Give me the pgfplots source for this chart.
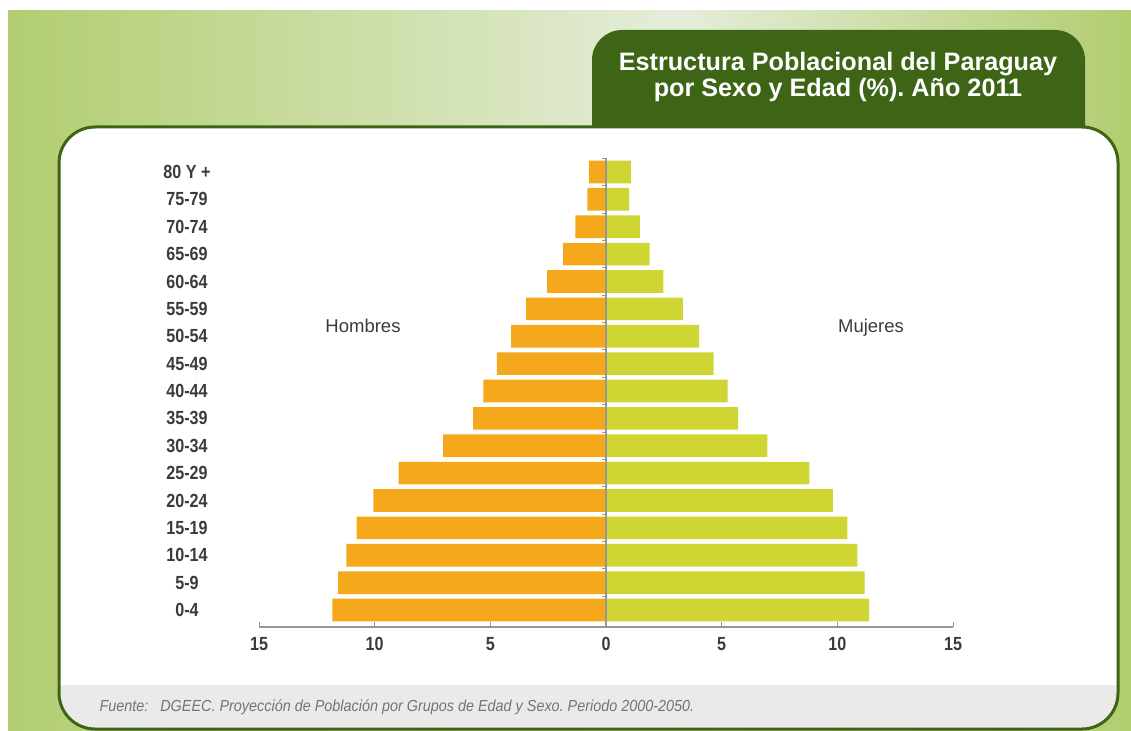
\documentclass[border=0pt]{standalone}
\usepackage{pgfplots}
\pgfplotsset{compat=1.18}
\usepackage{fontspec}
\setmainfont{Liberation Sans}
\newfontfamily\condfont[FakeStretch=0.85]{Liberation Sans}
\newfontfamily\footfont[FakeStretch=0.9]{Liberation Sans}
\frenchspacing

\definecolor{men}{RGB}{245,168,28}
\definecolor{women}{RGB}{207,214,52}
\definecolor{dkgreen}{RGB}{62,101,22}
\definecolor{bgdark}{RGB}{178,205,112}
\definecolor{bglight}{RGB}{229,237,218}
\definecolor{footgrey}{RGB}{234,234,234}
\definecolor{labgrey}{RGB}{62,58,60}
\definecolor{axgrey}{RGB}{150,150,150}

% percent of population by age group (index 0 = 0-4 ... 16 = 80 Y +)
\pgfplotstableread{
y  hombres  mujeres
0  -11.83   11.37
1  -11.58   11.18
2  -11.22   10.87
3  -10.78   10.43
4  -10.06    9.81
5   -8.96    8.79
6   -7.04    6.97
7   -5.74    5.71
8   -5.30    5.26
9   -4.72    4.65
10  -4.10    4.02
11  -3.45    3.32
12  -2.55    2.48
13  -1.85    1.89
14  -1.32    1.46
15  -0.81    1.00
16  -0.74    1.07
}\pyramid

\newcommand\labfont{\condfont\bfseries\fontsize{19bp}{20bp}\selectfont\color{labgrey}}

\begin{document}
\begin{tikzpicture}
\begin{scope}[x=1bp,y=-1bp]
  \useasboundingbox (0,0) rectangle (1131,731);
  \fill[white] (0,0) rectangle (1131,731);
  \shade[left color=bgdark, right color=bglight] (8,11) rectangle (680,731);
  \shade[left color=bglight, right color=bgdark] (680,11) rectangle (1131,731);
  % title tab
  \fill[dkgreen] (592,128) [rounded corners=30bp] -- (592,30) -- (1085,30) [sharp corners] -- (1085,128) -- cycle;
  \node[align=center, text=white, font=\bfseries\fontsize{25.2bp}{26bp}\selectfont] at (838,77)
    {Estructura Poblacional del Paraguay\\por Sexo y Edad (\%). Año 2011};
  % white panel with grey footer
  \fill[white, rounded corners=36bp] (59,127) rectangle (1118,729);
  \begin{scope}
    \clip[rounded corners=36bp] (59,127) rectangle (1118,729);
    \fill[footgrey] (50,685) rectangle (1130,735);
  \end{scope}
  \draw[dkgreen, line width=3bp, rounded corners=36bp] (59,127) rectangle (1118,729);
  \node[anchor=west, text={rgb,255:red,115;green,115;blue,125},
        font=\footfont\itshape\fontsize{16bp}{18bp}\selectfont] at (96,707)
    {Fuente:\hspace{12bp}DGEEC. Proyección de Población por Grupos de Edad y Sexo. Periodo 2000-2050.};
\end{scope}

\begin{axis}[
  at={(259bp,-627bp)}, anchor=south west,
  scale only axis, width=694bp, height=469bp,
  xmin=-15, xmax=15, ymin=-0.62, ymax=16.51,
  xbar, bar width=22.7bp,
  axis x line=bottom, axis y line=left,
  x axis line style={draw=axgrey, line width=1.3bp, -},
  y axis line style={draw=none},
  xtick={-15,-10,-5,0,5,10,15},
  xticklabels={15,10,5,0,5,10,15},
  xtick style={draw=axgrey, line width=1bp},
  tick align=inside, major tick length=5bp,
  xticklabel style={font=\labfont, yshift=-7bp},
  ytick={0,...,16},
  yticklabels={0-4,5-9,10-14,15-19,20-24,25-29,30-34,35-39,40-44,45-49,50-54,55-59,60-64,65-69,70-74,75-79,80 Y +},
  ytick style={draw=none},
  yticklabel style={font=\labfont, anchor=center, xshift=-72bp},
]
\addplot[fill=men, draw=none, bar shift=0pt] table[x=hombres, y=y] {\pyramid};
\addplot[fill=women, draw=none, bar shift=0pt] table[x=mujeres, y=y] {\pyramid};
\draw[axgrey, line width=1.8bp] (axis cs:0,-0.62) -- (axis cs:0,16.51);
\pgfplotsinvokeforeach{0.5,1.5,...,16.5}{
  \draw[axgrey, line width=1bp] (axis cs:0,#1) -- ++(-4bp,0pt);
}
\end{axis}

\begin{scope}[x=1bp,y=-1bp]
  \node[anchor=base, text=labgrey, font=\fontsize{18.5bp}{20bp}\selectfont] at (363,332) {Hombres};
  \node[anchor=base, text=labgrey, font=\fontsize{18.5bp}{20bp}\selectfont] at (871,332) {Mujeres};
\end{scope}
\end{tikzpicture}
\end{document}
